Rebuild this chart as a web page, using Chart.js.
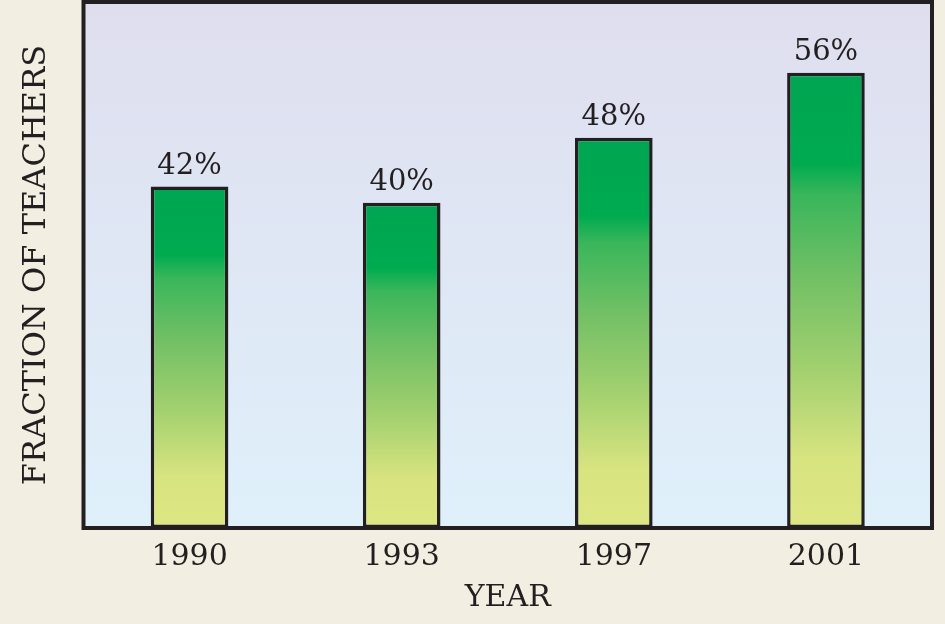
<!DOCTYPE html>
<html>
<head>
<meta charset="utf-8">
<script src="https://cdn.jsdelivr.net/npm/chart.js@4.4.0/dist/chart.umd.min.js"></script>
<style>
  html, body { margin: 0; padding: 0; background: #f2efe2; }
  #chart { display: block; }
</style>
</head>
<body>
<canvas id="chart" width="945" height="624"></canvas>
<script>
// datos del grafico
const years = ["1990", "1993", "1997", "2001"];
const fraction = [42, 40, 48, 56];
const labelsPct = ["42%", "40%", "48%", "56%"];

const serif = "'DejaVu Serif', 'Liberation Serif', serif";
const ink = "#231f20";

// fondo del area del grafico + borde
const plotFrame = {
  id: "plotFrame",
  beforeDatasetsDraw(chart) {
    const { ctx, chartArea: a } = chart;
    const g = ctx.createLinearGradient(0, a.top, 0, a.bottom);
    g.addColorStop(0, "#dfdeef");
    g.addColorStop(1, "#dff0fb");
    ctx.save();
    ctx.fillStyle = g;
    ctx.fillRect(a.left, a.top, a.right - a.left, a.bottom - a.top);
    ctx.restore();
  },
  afterDatasetsDraw(chart) {
    const { ctx, chartArea: a } = chart;
    ctx.save();
    ctx.strokeStyle = ink;
    ctx.lineWidth = 4;
    ctx.strokeRect(a.left, a.top, a.right - a.left, a.bottom - a.top);
    ctx.restore();
  }
};

// etiquetas encima de cada barra
const barLabels = {
  id: "barLabels",
  afterDatasetsDraw(chart) {
    const { ctx } = chart;
    const meta = chart.getDatasetMeta(0);
    ctx.save();
    ctx.font = "29px " + serif;
    ctx.fillStyle = ink;
    ctx.textAlign = "center";
    ctx.textBaseline = "bottom";
    meta.data.forEach((bar, i) => {
      ctx.fillText(labelsPct[i], bar.x, bar.y - 6);
    });
    ctx.restore();
  }
};

function barGradient(c) {
  if (c.type !== "data") return "#00a651";
  const chart = c.chart;
  if (!chart.chartArea) return "#00a651";
  const y = chart.scales.y;
  const top = y.getPixelForValue(fraction[c.dataIndex]);
  const bottom = y.getPixelForValue(0);
  const g = chart.ctx.createLinearGradient(0, top, 0, bottom);
  g.addColorStop(0, "#00a551");
  g.addColorStop(0.2, "#00ab50");
  g.addColorStop(0.27, "#3ab65b");
  g.addColorStop(0.45, "#72c065");
  g.addColorStop(0.65, "#a2d06f");
  g.addColorStop(0.85, "#d8e480");
  g.addColorStop(1, "#dde682");
  return g;
}

new Chart(document.getElementById("chart"), {
  type: "bar",
  data: {
    labels: years,
    datasets: [{
      data: fraction,
      backgroundColor: barGradient,
      borderColor: ink,
      borderWidth: 3.5,
      borderSkipped: false,
      barPercentage: 0.366,
      categoryPercentage: 1
    }]
  },
  options: {
    responsive: false,
    animation: false,
    devicePixelRatio: 1,
    layout: { padding: { top: 2, right: 13, left: 0, bottom: 0 } },
    plugins: { legend: { display: false }, tooltip: { enabled: false } },
    scales: {
      x: {
        grid: { display: false, drawTicks: false },
        border: { display: false },
        ticks: { color: ink, font: { family: serif, size: 30 }, padding: 11 },
        title: {
          display: true, text: "YEAR", color: ink,
          font: { family: serif, size: 30 }, padding: { top: 0, bottom: 8 }
        },
        afterFit(s) { s.height = 96; }
      },
      y: {
        min: 0, max: 64.7,
        grid: { display: false, drawTicks: false },
        border: { display: false },
        ticks: { display: false },
        title: {
          display: true, text: "FRACTION OF TEACHERS", color: ink,
          font: { family: serif, size: 32 }, padding: { top: 17, bottom: 17 }
        },
        afterFit(s) { s.width = 83.5; }
      }
    }
  },
  plugins: [plotFrame, barLabels]
});
</script>
</body>
</html>
